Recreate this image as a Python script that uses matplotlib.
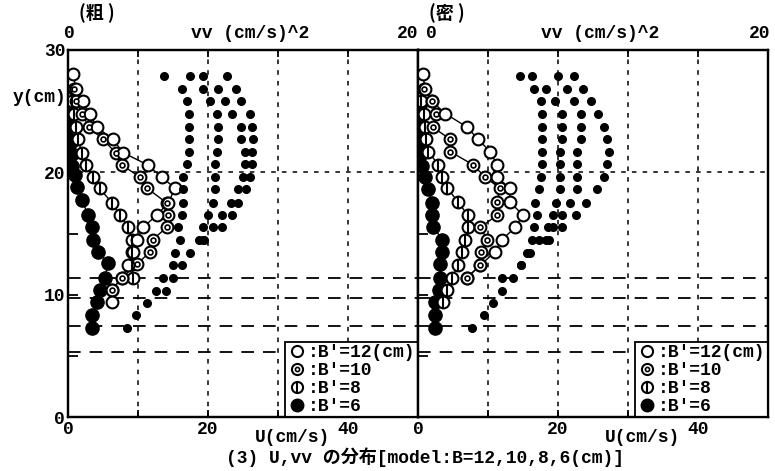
import numpy as np
import matplotlib
matplotlib.use("Agg")
import matplotlib.pyplot as plt
from matplotlib.legend_handler import HandlerTuple
from matplotlib.lines import Line2D

FONT = ['Liberation Mono', 'Noto Sans CJK JP', 'DejaVu Sans']
plt.rcParams['font.family'] = FONT
plt.rcParams['font.weight'] = 'bold'

panel_titles = ["(粗 )", "(密 )"]
caption = "(3) U,vv の分布[model:B=12,10,8,6(cm)]"
legend_labels = [":B'=12(cm)", ":B'=10", ":B'=8", ":B'=6"]

# ---------- left panel (粗) : U profiles (y, U) ----------
L_y12 = [28.0, 26.8, 25.8, 24.8, 23.7, 22.7, 21.6, 20.6, 19.6, 18.7, 17.5, 16.5, 15.5, 14.5, 13.5, 12.4, 11.4, 10.4, 9.4]
L_u12 = [0.7, 1.2, 2.1, 3.1, 4.1, 6.4, 7.9, 11.4, 13.4, 15.3, 14.3, 12.7, 10.7, 9.9, 9.3, 8.6, 7.7, 6.3, 6.3]
L_y10 = [26.8, 25.8, 24.8, 23.7, 22.7, 21.6, 20.6, 19.6, 18.7, 17.5, 16.5, 15.5, 14.5, 13.5, 12.5, 11.4, 10.4]
L_u10 = [0.8, 1.2, 2.0, 3.0, 5.0, 6.8, 7.7, 10.3, 11.3, 14.1, 14.3, 14.1, 12.1, 11.7, 9.9, 7.7, 6.3]
L_y8 = [25.8, 24.8, 23.7, 22.7, 21.6, 20.6, 19.6, 18.7, 17.5, 16.5, 15.5, 14.5, 13.5, 12.5, 11.4]
L_u8 = [0.5, 0.8, 1.1, 1.4, 2.0, 2.6, 3.5, 4.5, 6.3, 7.4, 8.6, 9.1, 9.1, 9.1, 9.3]
L_y6 = [25.5, 24.5, 23.5, 22.5, 21.5, 20.5, 19.8, 18.8, 17.7, 16.5, 15.5, 14.5, 13.5, 12.6, 11.4, 10.4, 9.4, 8.3, 7.3]
L_u6 = [0.3, 0.3, 0.3, 0.4, 0.5, 0.6, 1.0, 1.3, 2.0, 2.9, 3.4, 3.6, 4.3, 5.7, 5.3, 4.6, 4.1, 3.4, 3.4]

# left panel vv dots (y, vv) for the four models
L_vy = [27.9, 26.8, 25.8, 24.8, 23.7, 22.7, 21.7, 20.7, 19.6, 18.6, 17.5, 16.5, 15.5, 14.5, 13.4, 12.4, 11.4, 10.3, 9.3, 8.3, 7.3]
L_vv12 = [9.1, 9.6, 9.9, 10.4, 10.5, 10.6, 10.5, 10.5, 10.4, 10.2, 9.7, 9.4, 8.8, 7.8, 7.0, 6.5, 6.0, 5.6, None, None, None]
L_vv10 = [7.7, 8.6, 9.0, 9.4, 9.9, 9.9, 10.1, 10.1, 10.0, 9.7, 9.3, 8.8, 8.3, 7.5, None, None, None, None, None, None, None]
L_vv8 = [7.0, 7.7, 8.1, 8.5, 8.6, 8.6, 8.5, 8.4, 8.4, 8.4, 8.3, 8.0, 7.7, 7.7, None, None, None, None, None, None, None]
L_vv6 = [5.5, 6.5, 6.8, 6.9, 6.9, 6.9, 6.9, 6.8, 6.6, 6.6, 6.6, 6.5, 6.3, 6.4, 6.1, 6.0, 5.4, 5.0, 4.5, 3.9, 3.4]

# ---------- right panel (密) ----------
R_y12 = [28.0, 26.8, 25.8, 24.8, 23.7, 22.7, 21.7, 20.6, 19.6, 18.7, 17.6, 16.5, 15.5, 14.5, 13.5, 12.4, 11.4]
R_u12 = [0.7, 1.0, 2.0, 3.9, 7.0, 8.6, 10.3, 11.3, 11.3, 13.1, 13.1, 15.0, 13.9, 12.0, 11.0, 8.9, 7.0]
R_y10 = [26.8, 25.8, 24.8, 23.7, 22.7, 21.7, 20.6, 19.6, 18.7, 17.6, 16.5, 15.5, 14.5, 13.5, 12.4, 11.4]
R_u10 = [0.9, 2.0, 2.6, 2.1, 4.6, 4.6, 7.9, 9.6, 11.7, 11.3, 11.3, 8.9, 9.9, 9.0, 8.9, 7.0]
R_y8 = [25.8, 24.8, 23.7, 22.7, 21.7, 20.6, 19.6, 18.7, 17.6, 16.5, 15.5, 14.5, 13.5, 12.4, 11.4, 10.4, 9.4]
R_u8 = [0.5, 0.8, 1.0, 1.2, 1.5, 2.9, 3.5, 4.2, 5.7, 7.1, 7.1, 6.7, 6.3, 5.7, 4.9, 4.1, 3.6]
R_y6 = [25.5, 24.5, 23.5, 22.5, 21.5, 20.5, 19.6, 18.6, 17.5, 16.5, 15.5, 14.5, 13.5, 12.5, 11.4, 10.4, 9.4, 8.3, 7.3]
R_u6 = [0.3, 0.3, 0.3, 0.4, 0.5, 0.6, 1.0, 1.5, 2.0, 2.0, 2.2, 3.5, 3.5, 3.2, 3.2, 3.0, 2.5, 2.5, 2.5]

R_vy = [27.9, 26.8, 25.8, 24.8, 23.7, 22.7, 21.7, 20.7, 19.6, 18.6, 17.5, 16.5, 15.5, 14.5, 13.4, 12.4, 11.4, 10.3, 9.3, 8.3, 7.3]
R_vv12 = [8.9, 9.4, 9.9, 10.3, 10.6, 10.8, 10.9, 10.8, 10.6, 10.2, 9.6, 9.0, 8.2, 7.5, None, None, None, None, None, None, None]
R_vv10 = [8.0, 8.5, 8.9, 9.3, 9.3, 9.3, 9.1, 9.1, 9.1, 9.1, 8.7, 8.2, 7.7, 7.3, None, None, None, None, None, None, None]
R_vv8 = [6.5, 7.3, 7.8, 8.2, 8.2, 8.2, 8.1, 8.1, 8.1, 8.1, 7.9, 7.7, 7.4, 6.9, 6.4, 5.9, 5.4, None, None, None, None]
R_vv6 = [5.8, 6.6, 7.0, 7.1, 7.1, 7.1, 7.1, 7.1, 7.0, 6.9, 6.7, 6.8, 6.6, 6.5, 6.2, 5.9, 4.8, 4.8, 4.3, 3.8, 3.1]

# horizontal reference levels (dashed) and grid
dash_levels = [11.4, 9.7, 7.4, 5.3]
u_grid = [10, 20, 30, 40]
y_grid = [20]

W, H = 775, 471
fig = plt.figure(figsize=(W / 100, H / 100), dpi=100)

ax_left_px, ax_w_px = [68, 418], 350
top_px, bot_px = 50, 417
AXH = bot_px - top_px
FS = 13


def ty(px):
    """figure-pixel y (from top) -> axes fraction"""
    return (bot_px - px) / AXH


def marker_series(ax, u, y, kind):
    if kind == 12:
        ax.plot(u, y, color='black', lw=1.0, marker='o', ms=8.5, mfc='white', mec='black', mew=1.5, zorder=4)
    elif kind == 10:
        ax.plot(u, y, color='black', lw=1.0, marker='o', ms=8.5, mfc='white', mec='black', mew=1.5, zorder=4)
        ax.plot(u, y, ls='none', marker='o', ms=3.5, mfc='white', mec='black', mew=1.2, zorder=5)
    elif kind == 8:
        ax.plot(u, y, color='black', lw=1.0, marker='o', ms=8.5, mfc='white', mec='black', mew=1.5, zorder=4)
        ax.plot(u, y, ls='none', marker='|', ms=8.5, mec='black', mew=1.5, zorder=5)
    else:
        ax.plot(u, y, color='black', lw=1.0, marker='o', ms=9.5, mfc='black', mec='black', zorder=4)


panels = [
    (L_y12, L_u12, L_y10, L_u10, L_y8, L_u8, L_y6, L_u6, L_vy, [L_vv12, L_vv10, L_vv8, L_vv6]),
    (R_y12, R_u12, R_y10, R_u10, R_y8, R_u8, R_y6, R_u6, R_vy, [R_vv12, R_vv10, R_vv8, R_vv6]),
]
top_label_x = [(0.003, 0.971), (0.037, 0.975)]

for i, pdata in enumerate(panels):
    y12, u12, y10, u10, y8, u8, y6, u6, vy, vvs = pdata
    left = ax_left_px[i] / W
    bottom = (H - bot_px) / H
    ax = fig.add_axes([left, bottom, ax_w_px / W, AXH / H])
    ax.set_xlim(0, 50)
    ax.set_ylim(0, 30)
    for sp in ax.spines.values():
        sp.set_linewidth(1.6)
    # grid
    for g in u_grid:
        ax.axvline(g, color='black', lw=1.1, ls=(0, (3, 4)), zorder=1)
    for g in y_grid:
        ax.axhline(g, color='black', lw=1.1, ls=(0, (3, 4)), zorder=1)
    for d in dash_levels:
        ax.axhline(d, color='black', lw=1.3, ls=(0, (7, 5)), zorder=1)

    marker_series(ax, u6, y6, 6)
    marker_series(ax, u8, y8, 8)
    marker_series(ax, u10, y10, 10)
    marker_series(ax, u12, y12, 12)

    # vv axis on top
    axv = ax.twiny()
    axv.set_xlim(0, 20)
    for vv in vvs:
        yy = [a for a, b in zip(vy, vv) if b is not None]
        xx = [b for b in vv if b is not None]
        axv.plot(xx, yy, ls='none', marker='o', ms=5.5, mfc='black', mec='black', zorder=3)
    axv.set_xticks([0, 4, 8, 12, 16, 20])
    axv.set_xticklabels([])
    axv.tick_params(axis='x', direction='in', length=5, width=1.3)
    for sp in axv.spines.values():
        sp.set_linewidth(1.6)
    x0, x20 = top_label_x[i]
    ax.text(x0, ty(33), "0", transform=ax.transAxes, ha='center', va='center', fontsize=FS)
    ax.text(x20, ty(33), "20", transform=ax.transAxes, ha='center', va='center', fontsize=FS)
    ax.text(0.52, ty(33), "vv (cm/s)^2", transform=ax.transAxes, ha='center', va='center', fontsize=FS)
    ax.text(0.083, ty(13), panel_titles[i], transform=ax.transAxes, ha='center', va='center', fontsize=FS,
            family=['Noto Sans CJK JP', 'Liberation Mono'])

    ax.set_xticks([0, 10, 20, 30, 40])
    ax.set_xticklabels(['0', '', '20', '', '40'])
    ax.tick_params(axis='x', direction='in', length=5, width=1.3, labelsize=FS, pad=3)
    ax.set_yticks([0, 5, 10, 15, 20, 25, 30])
    if i == 0:
        ax.set_yticklabels(['0', '', '10', '', '20', '', '30'])
    else:
        ax.set_yticklabels([])
    ax.tick_params(axis='y', direction='in', length=7, width=1.3, labelsize=FS, pad=2)
    ax.text(0.64, ty(437), "U(cm/s)", transform=ax.transAxes, ha='center', va='center', fontsize=FS)

    # legend
    h12 = Line2D([], [], ls='none', marker='o', ms=8, mfc='white', mec='black', mew=1.5)
    h10a = Line2D([], [], ls='none', marker='o', ms=8, mfc='white', mec='black', mew=1.5)
    h10b = Line2D([], [], ls='none', marker='o', ms=3, mfc='white', mec='black', mew=1.2)
    h8a = Line2D([], [], ls='none', marker='o', ms=8, mfc='white', mec='black', mew=1.5)
    h8b = Line2D([], [], ls='none', marker='|', ms=8, mec='black', mew=1.5)
    h6 = Line2D([], [], ls='none', marker='o', ms=9, mfc='black', mec='black')
    leg = ax.legend([h12, (h10a, h10b), (h8a, h8b), h6], legend_labels,
                    handler_map={tuple: HandlerTuple(ndivide=1, pad=0)},
                    loc='lower right', bbox_to_anchor=(1.0, 0.0), frameon=True, fancybox=False,
                    edgecolor='black', framealpha=1.0, borderpad=0.12, labelspacing=0.05,
                    handlelength=1.0, handletextpad=0.15, borderaxespad=0.0,
                    prop={'family': FONT, 'size': FS, 'weight': 'bold'})
    leg.get_frame().set_linewidth(1.3)
    leg.set_zorder(10)

fig.text(66 / W, 1 - 97 / H, "y(cm)", ha='right', va='center', fontsize=FS, zorder=20)
fig.text(425 / W, 1 - 457 / H, caption, ha='center', va='center', fontsize=FS,
         family=['Liberation Mono', 'Noto Sans CJK JP'])

fig.savefig("out.png", dpi=100)
